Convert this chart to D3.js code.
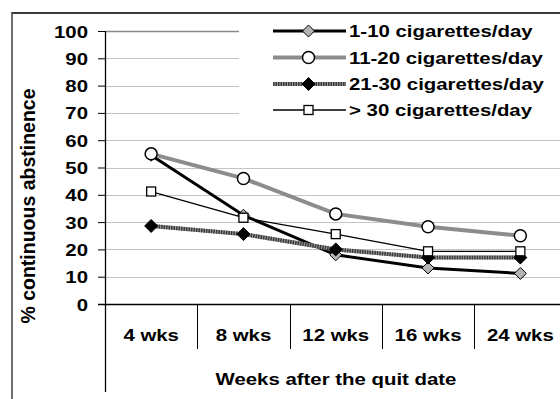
<!DOCTYPE html>
<html>
<head>
<meta charset="utf-8">
<script src="https://cdn.jsdelivr.net/npm/d3@7"></script>
<style>
  html, body { margin: 0; padding: 0; background: #fff; }
  svg { display: block; }
  text { font-family: "Liberation Sans", Arial, sans-serif; font-weight: bold; fill: #000; }
</style>
</head>
<body>
<svg id="chart" width="560" height="399"></svg>
<script>
// Weeks after the quit date
const categories = ["4 wks", "8 wks", "12 wks", "16 wks", "24 wks"];
// % continuous abstinence per smoking group
const seriesNames = ["1-10 cigarettes/day", "11-20 cigarettes/day", "21-30 cigarettes/day", "> 30 cigarettes/day"];
const light   = [54.5, 32.5, 18.0, 13.2, 11.2];
const moderate = [55.0, 46.0, 33.0, 28.3, 25.0];
const heavy   = [28.6, 25.6, 20.0, 17.0, 17.0];
const veryHeavy = [41.2, 31.6, 25.6, 19.3, 19.3];
const yTicks = [0, 10, 20, 30, 40, 50, 60, 70, 80, 90, 100];

const SX = 1.2;      // horizontal stretch of the label lettering
const FS = 17;       // label font size

const svg = d3.select("#chart");

const plot = { left: 105, top: 31, bottom: 304, right: 566.5 };
const x = d3.scaleBand().domain(categories).range([plot.left, plot.right]).padding(0);
const y = d3.scaleLinear().domain([0, 100]).range([plot.bottom, plot.top]);

// stretched text helper
function label(g, tx, ty, str, anchor, size) {
  return g.append("text")
    .attr("transform", `translate(${tx},${ty}) scale(${SX},1)`)
    .attr("text-anchor", anchor)
    .style("font-size", (size || FS) + "px")
    .text(str);
}

// outer frame
svg.append("line").attr("x1", 12).attr("x2", 560).attr("y1", 13).attr("y2", 13)
  .attr("stroke", "#3c3c3c").attr("stroke-width", 2);
svg.append("line").attr("x1", 12).attr("x2", 12).attr("y1", 12).attr("y2", 399)
  .attr("stroke", "#3c3c3c").attr("stroke-width", 1.5);

// gridlines
svg.append("g").selectAll("line").data(yTicks.filter(d => d > 0)).join("line")
  .attr("x1", plot.left).attr("x2", 560)
  .attr("y1", d => Math.round(y(d)) + 0.5).attr("y2", d => Math.round(y(d)) + 0.5)
  .attr("stroke", d => d === 100 ? "#8a8a8a" : "#c4c4c4")
  .attr("stroke-width", d => d === 100 ? 1.5 : 1);

// y axis
const yAxis = svg.append("g").attr("transform", `translate(${plot.left},0)`)
  .call(d3.axisLeft(y).tickValues(yTicks).tickSize(7).tickSizeOuter(0).tickPadding(17));
yAxis.select(".domain").remove();
yAxis.selectAll(".tick line").attr("stroke", "#000").attr("stroke-width", 1);
yAxis.selectAll(".tick text")
  .attr("x", null).attr("dy", null)
  .attr("transform", `translate(-17,6) scale(${SX},1)`)
  .style("font-size", FS + "px")
  .style("font-family", "'Liberation Sans', Arial, sans-serif")
  .style("font-weight", "bold");

// axis lines
svg.append("line").attr("x1", plot.left + 0.5).attr("x2", plot.left + 0.5)
  .attr("y1", plot.top).attr("y2", 392).attr("stroke", "#000").attr("stroke-width", 1.3);
svg.append("line").attr("x1", plot.left - 7).attr("x2", 560)
  .attr("y1", plot.bottom + 0.5).attr("y2", plot.bottom + 0.5).attr("stroke", "#000").attr("stroke-width", 1.3);

// category dividers and labels
svg.append("g").selectAll("line").data(categories.slice(1)).join("line")
  .attr("x1", d => Math.round(x(d)) + 0.5).attr("x2", d => Math.round(x(d)) + 0.5)
  .attr("y1", plot.bottom).attr("y2", 349)
  .attr("stroke", "#000").attr("stroke-width", 1);
const catG = svg.append("g");
categories.forEach(c => label(catG, x(c) + x.bandwidth() / 2, 341, c, "middle"));

// axis titles
label(svg, 336, 385, "Weeks after the quit date", "middle");
svg.append("text")
  .attr("transform", "translate(35,206) rotate(-90)")
  .attr("text-anchor", "middle")
  .style("font-size", "19.5px")
  .text("% continuous abstinence");

// legend background
svg.append("rect").attr("x", 239).attr("y", 16).attr("width", 330).attr("height", 108).attr("fill", "#fff");

// series styles
const diamond = s => `M0,${-s}L${s},0L0,${s}L${-s},0Z`;
const styles = [
  { values: light, stroke: "#000", width: 3, marker: g => g.append("path").attr("d", diamond(6)).attr("fill", "#b4b4b4").attr("stroke", "#000").attr("stroke-width", 1) },
  { values: moderate, stroke: "#8c8c8c", width: 4, marker: g => g.append("circle").attr("r", 6).attr("fill", "#fff").attr("stroke", "#000").attr("stroke-width", 1.5) },
  { values: heavy, stroke: "#3a3a3a", width: 4, dash: "1.5,1", under: "#9a9a9a", marker: g => g.append("path").attr("d", diamond(6.5)).attr("fill", "#000").attr("stroke", "#000").attr("stroke-width", 1) },
  { values: veryHeavy, stroke: "#000", width: 1.3, marker: g => g.append("rect").attr("x", -4.5).attr("y", -4.5).attr("width", 9).attr("height", 9).attr("fill", "#fff").attr("stroke", "#000").attr("stroke-width", 1.3) }
];

const line = d3.line().x((d, i) => x(categories[i]) + x.bandwidth() / 2).y(d => y(d));

styles.forEach(s => {
  const g = svg.append("g");
  if (s.under) g.append("path").attr("d", line(s.values)).attr("fill", "none").attr("stroke", s.under).attr("stroke-width", s.width);
  g.append("path").attr("d", line(s.values)).attr("fill", "none")
    .attr("stroke", s.stroke).attr("stroke-width", s.width)
    .attr("stroke-dasharray", s.dash || null);
  s.values.forEach((v, i) => {
    const m = g.append("g").attr("transform", `translate(${x(categories[i]) + x.bandwidth() / 2},${y(v)})`);
    s.marker(m);
  });
});

// legend
const legendRows = [31, 57.5, 84, 110];
styles.forEach((s, i) => {
  const g = svg.append("g").attr("transform", `translate(0,${legendRows[i]})`);
  if (s.under) g.append("line").attr("x1", 273).attr("x2", 346).attr("stroke", s.under).attr("stroke-width", s.width);
  g.append("line").attr("x1", 273).attr("x2", 346)
    .attr("stroke", s.stroke).attr("stroke-width", s.width)
    .attr("stroke-dasharray", s.dash || null);
  s.marker(g.append("g").attr("transform", "translate(308.5,0)"));
  label(g, 349, 6, seriesNames[i], "start");
});
</script>
</body>
</html>
